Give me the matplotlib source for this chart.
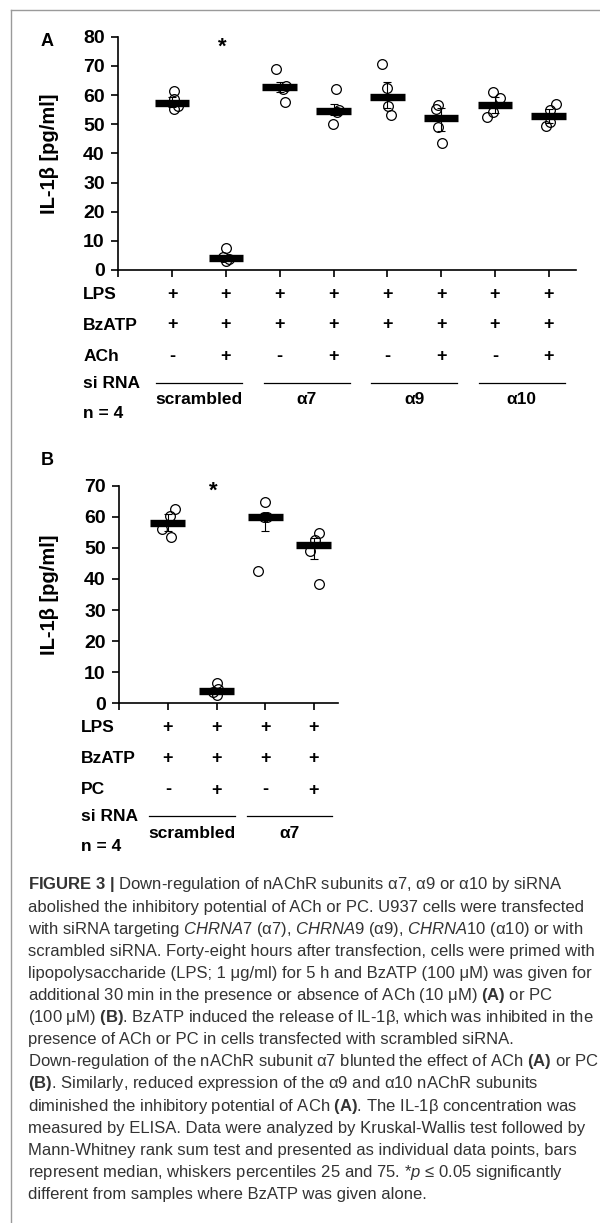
import numpy as np
import matplotlib
matplotlib.use('Agg')
import matplotlib.pyplot as plt
from matplotlib.transforms import offset_copy
from matplotlib.lines import Line2D

plt.rcParams['font.family'] = ['Liberation Sans', 'DejaVu Sans']
plt.rcParams['mathtext.fontset'] = 'custom'
plt.rcParams['mathtext.rm'] = 'Liberation Sans'
plt.rcParams['mathtext.it'] = 'Liberation Sans:italic'
plt.rcParams['mathtext.bf'] = 'Liberation Sans:bold'

# panel A: IL-1b [pg/ml], 4 replicates per condition
vals_a = [
    [61.4, 58.6, 55.2, 56.2],
    [7.4, 3.0, 4.5, 3.9],
    [68.8, 63.2, 62.2, 57.6],
    [62.1, 55.0, 54.2, 49.9],
    [70.7, 62.5, 56.3, 53.1],
    [56.6, 55.1, 48.9, 43.4],
    [61.1, 58.9, 54.1, 52.5],
    [57.0, 54.8, 50.8, 49.3],
]
# horizontal scatter of the dots (category units)
jit_a = [
    [0.04, 0.04, 0.04, 0.11], [0.0, 0.0, -0.06, 0.05],
    [-0.07, 0.11, 0.07, 0.10], [0.04, 0.11, 0.06, -0.01],
    [-0.10, 0.0, 0.02, 0.06], [-0.06, -0.10, -0.06, 0.02],
    [-0.04, 0.10, -0.03, -0.14], [0.13, 0.02, 0.02, -0.05],
]
lps_a = ['+'] * 8
bzatp_a = ['+'] * 8
ach_a = ['-', '+', '-', '+', '-', '+', '-', '+']
groups_a = ['scrambled', 'α7', 'α9', 'α10']

# panel B
vals_b = [
    [62.4, 60.2, 56.1, 53.6],
    [6.4, 2.7, 3.5, 4.5],
    [64.6, 60.0, 59.8, 42.6],
    [54.9, 52.5, 49.1, 38.3],
]
jit_b = [
    [0.14, 0.05, -0.12, 0.07], [0.0, 0.0, -0.07, 0.03],
    [0.0, -0.03, 0.04, -0.14], [0.10, 0.02, -0.08, 0.10],
]
lps_b = ['+'] * 4
bzatp_b = ['+'] * 4
pc_b = ['-', '+', '-', '+']
groups_b = ['scrambled', 'α7']

caption = [
    r"$\mathbf{FIGURE\ 3\ |}$ Down-regulation of nAChR subunits α7, α9 or α10 by siRNA",
    "abolished the inhibitory potential of ACh or PC. U937 cells were transfected",
    r"with siRNA targeting $\mathit{CHRNA7}$ (α7), $\mathit{CHRNA9}$ (α9), $\mathit{CHRNA10}$ (α10) or with",
    "scrambled siRNA. Forty-eight hours after transfection, cells were primed with",
    "lipopolysaccharide (LPS; 1 μg/ml) for 5 h and BzATP (100 μM) was given for",
    r"additional 30 min in the presence or absence of ACh (10 μM) $\mathbf{(A)}$ or PC",
    r"(100 μM) $\mathbf{(B)}$. BzATP induced the release of IL-1β, which was inhibited in the",
    "presence of ACh or PC in cells transfected with scrambled siRNA.",
    r"Down-regulation of the nAChR subunit α7 blunted the effect of ACh $\mathbf{(A)}$ or PC",
    r"$\mathbf{(B)}$. Similarly, reduced expression of the α9 and α10 nAChR subunits",
    r"diminished the inhibitory potential of ACh $\mathbf{(A)}$. The IL-1β concentration was",
    "measured by ELISA. Data were analyzed by Kruskal-Wallis test followed by",
    "Mann-Whitney rank sum test and presented as individual data points, bars",
    r"represent median, whiskers percentiles 25 and 75. *$\mathit{p}$ ≤ 0.05 significantly",
    "different from samples where BzATP was given alone.",
]

W, H = 600, 1223
fig = plt.figure(figsize=(W / 100, H / 100), dpi=100)


def add_ax(l, t, r, b):
    return fig.add_axes([l / W, 1 - b / H, (r - l) / W, (b - t) / H])


def below(ax, dy, dx=0):
    # x in data, y = x-axis line shifted down by dy pixels
    return offset_copy(ax.get_xaxis_transform(), fig=fig, x=dx, y=-dy, units='dots')


def panel(ax, vals, jit, ymax, barhalf, rows, groups, linehalf, label_dx, star):
    n = len(vals)
    for i, (v, j) in enumerate(zip(vals, jit)):
        x = i + 1
        v = np.array(v)
        med = np.median(v)
        q1, q3 = np.percentile(v, [25, 75])
        ax.errorbar(x, med, yerr=[[med - q1], [q3 - med]], fmt='none', ecolor='black',
                    elinewidth=0.8, capsize=3, capthick=0.8, zorder=2)
        ax.hlines(med, x - barhalf, x + barhalf, color='black', lw=5.3, zorder=3)
        ax.plot(x + np.array(j), v, 'o', ms=7, mfc='none', mec='black', mew=0.9,
                zorder=4, clip_on=False)

    ax.set_xlim(0, n + 0.5)
    ax.set_ylim(0, ymax)
    ax.set_xticks(range(n + 1))
    ax.set_xticklabels([])
    ax.set_yticks(range(0, ymax + 1, 10))
    for s in ['top', 'right']:
        ax.spines[s].set_visible(False)
    for s in ['left', 'bottom']:
        ax.spines[s].set_linewidth(1.2)
    ax.tick_params(direction='out', length=4.8, width=1.2, labelsize=14, pad=5)
    for lab in ax.get_yticklabels():
        lab.set_fontweight('bold')
    ax.set_ylabel('IL-1β [pg/ml]', fontsize=14.5, fontweight='bold')

    ax.text(star[0], star[1], '*', ha='center', va='center', fontsize=16,
            fontweight='bold', clip_on=False)

    # treatment rows under the axis
    row_dy = [24.3, 55, 86.7]
    for dy, (name, signs) in zip(row_dy, rows):
        ax.text(0, 0, name, transform=below(ax, dy, label_dx), ha='left', va='center',
                fontsize=12.5, fontweight='bold')
        for k, s in enumerate(signs):
            ax.text(k + 1, 0, s, transform=below(ax, dy), ha='center', va='center',
                    fontsize=13, fontweight='bold')
    ax.text(0, 0, 'si RNA', transform=below(ax, 113.3, label_dx), ha='left', va='center',
            fontsize=12.5, fontweight='bold')
    ax.text(0, 0, 'n = 4', transform=below(ax, 143.3, label_dx), ha='left', va='center',
            fontsize=12.5, fontweight='bold')
    for g, name in enumerate(groups):
        c = 2 * g + 1.5
        ax.add_line(Line2D([c - linehalf, c + linehalf], [0, 0], transform=below(ax, 112.7),
                           color='black', lw=0.9, clip_on=False))
        ax.text(c, 0, name, transform=below(ax, 130), ha='center', va='center',
                fontsize=12.5, fontweight='bold')


axA = add_ax(118.3, 36.7, 575.6, 270)
panel(axA, vals_a, jit_a, 80, 0.32,
      [('LPS', lps_a), ('BzATP', bzatp_a), ('ACh', ach_a)], groups_a, 0.8, -35, (1.93, 76.3))
axA.yaxis.set_label_coords(-0.130, 0.5)

axB = add_ax(119.3, 485.7, 338.3, 703.3)
panel(axB, vals_b, jit_b, 70, 0.36,
      [('LPS', lps_b), ('BzATP', bzatp_b), ('PC', pc_b)], groups_b, 0.88, -38, (1.93, 68.3))
axB.yaxis.set_label_coords(-0.275, 0.5)

fig.text(47 / W, 1 - 42 / H, 'A', ha='center', va='center', fontsize=13, fontweight='bold')
fig.text(47 / W, 1 - 461 / H, 'B', ha='center', va='center', fontsize=13, fontweight='bold')

# grey frame (top and left)
fig.add_artist(Line2D([11 / W, 1], [1 - 9.5 / H, 1 - 9.5 / H], transform=fig.transFigure,
                      color='#9a9a9a', lw=1))
fig.add_artist(Line2D([11 / W, 11 / W], [0, 1 - 9.5 / H], transform=fig.transFigure,
                      color='#9a9a9a', lw=1))

for i, line in enumerate(caption):
    fig.text(27.6 / W, 1 - (885 + 22.1 * i) / H, line, ha='left', va='center',
             fontsize=12, color='#333333')

fig.savefig('out.png', dpi=100)
